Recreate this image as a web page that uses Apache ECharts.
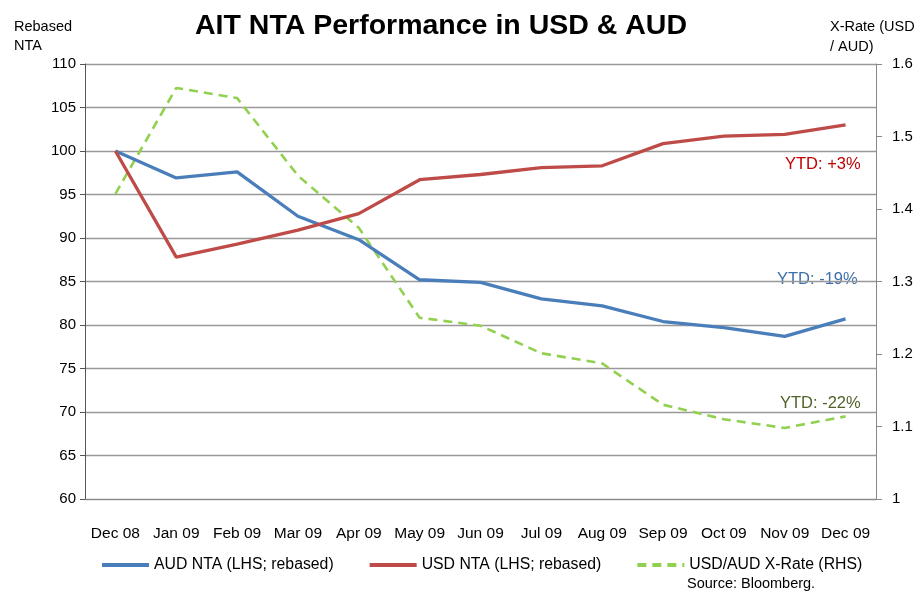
<!DOCTYPE html>
<html>
<head>
<meta charset="utf-8">
<script src="https://cdn.jsdelivr.net/npm/echarts@6/dist/echarts.min.js"></script>
<style>
    html, body { margin: 0; padding: 0; background: #fff; }
    #chart { width: 920px; height: 593px; }
</style>
</head>
<body>
<div id="chart"></div>
<script>
// 数据
const months = ['Dec 08', 'Jan 09', 'Feb 09', 'Mar 09', 'Apr 09', 'May 09', 'Jun 09',
    'Jul 09', 'Aug 09', 'Sep 09', 'Oct 09', 'Nov 09', 'Dec 09']
const audNta = [100, 96.9, 97.6, 92.5, 89.8, 85.2, 84.9, 83.0, 82.2, 80.4, 79.7, 78.7, 80.7]
const usdNta = [100, 87.8, 89.3, 90.9, 92.8, 96.7, 97.3, 98.1, 98.3, 100.85, 101.7, 101.9, 103.0]
const xRate = [1.421, 1.567, 1.553, 1.446, 1.374, 1.250, 1.239, 1.201, 1.187, 1.130, 1.110, 1.098, 1.114]

const FONT = "'Liberation Sans', Arial, sans-serif"
const BLUE = '#4a7ebb'
const RED = '#be4b48'
const GREEN = '#92d050'

const chart = echarts.init(document.getElementById('chart'))

const option = {
    backgroundColor: '#fff',
    animation: false,
    textStyle: { fontFamily: FONT },
    title: {
        text: 'AIT NTA Performance in USD & AUD',
        left: 436,
        top: 7,
        textAlign: 'center',
        textStyle: { fontSize: 28.5, fontWeight: 'bold', color: '#000', fontFamily: FONT },
    },
    grid: { left: 85, right: 44, top: 64, bottom: 94 },
    legend: {
        left: 95,
        top: 552,
        itemWidth: 47,
        itemHeight: 4,
        itemGap: 34,
        itemStyle: { opacity: 0 },
        lineStyle: { width: 4 },
        textStyle: { fontSize: 15.8, color: '#000', fontFamily: FONT },
        data: ['AUD NTA (LHS; rebased)', 'USD NTA (LHS; rebased)', 'USD/AUD X-Rate (RHS)'],
    },
    xAxis: {
        type: 'category',
        data: months,
        boundaryGap: true,
        axisLine: { lineStyle: { color: '#888', width: 1 } },
        axisTick: { show: false },
        axisLabel: { color: '#000', fontSize: 15.5, margin: 27, interval: 0 },
    },
    yAxis: [
        {
            type: 'value',
            min: 60,
            max: 110,
            interval: 5,
            name: 'Rebased\nNTA',
            nameLocation: 'end',
            nameGap: 9,
            nameTextStyle: { color: '#000', fontSize: 14.5, align: 'left', padding: [0, 0, 0, -71], lineHeight: 19 },
            axisLine: { show: true, lineStyle: { color: '#555', width: 1 } },
            axisTick: { show: true, length: 5, lineStyle: { color: '#555' } },
            axisLabel: { color: '#000', fontSize: 15, margin: 9 },
            splitLine: { lineStyle: { color: '#999', width: 1.3 } },
        },
        {
            type: 'value',
            min: 1,
            max: 1.6,
            interval: 0.1,
            position: 'right',
            name: 'X-Rate (USD\n/ AUD)',
            nameLocation: 'end',
            nameGap: 3,
            nameTextStyle: { color: '#000', fontSize: 14.5, align: 'left', padding: [0, 0, 0, -46], lineHeight: 20 },
            axisLine: { show: true, lineStyle: { color: '#888', width: 1 } },
            axisTick: { show: true, length: 6, lineStyle: { color: '#888' } },
            axisLabel: { color: '#000', fontSize: 15, margin: 16 },
            splitLine: { show: false },
        },
    ],
    series: [
        {
            name: 'AUD NTA (LHS; rebased)',
            type: 'line',
            data: audNta,
            symbol: 'none',
            lineStyle: { color: BLUE, width: 3.3 },
            itemStyle: { color: BLUE },
            z: 3,
        },
        {
            name: 'USD NTA (LHS; rebased)',
            type: 'line',
            data: usdNta,
            symbol: 'none',
            lineStyle: { color: RED, width: 3.3 },
            itemStyle: { color: RED },
            z: 3,
        },
        {
            name: 'USD/AUD X-Rate (RHS)',
            type: 'line',
            yAxisIndex: 1,
            data: xRate,
            symbol: 'none',
            lineStyle: { color: GREEN, width: 2.6, type: [9, 6] },
            itemStyle: { color: GREEN },
            z: 2,
        },
    ],
    graphic: [
        {
            type: 'text', left: 785, top: 156,
            style: { text: 'YTD: +3%', fill: '#c00000', fontSize: 16.5, fontFamily: FONT },
        },
        {
            type: 'text', left: 777, top: 271,
            style: { text: 'YTD: -19%', fill: '#3f6fa8', fontSize: 16.5, fontFamily: FONT },
        },
        {
            type: 'text', left: 780, top: 395,
            style: { text: 'YTD: -22%', fill: '#4f6228', fontSize: 16.5, fontFamily: FONT },
        },
        {
            type: 'text', left: 687, top: 576,
            style: { text: 'Source: Bloomberg.', fill: '#000', fontSize: 14.5, fontFamily: FONT },
        },
    ],
}

chart.setOption(option)
</script>
</body>
</html>
